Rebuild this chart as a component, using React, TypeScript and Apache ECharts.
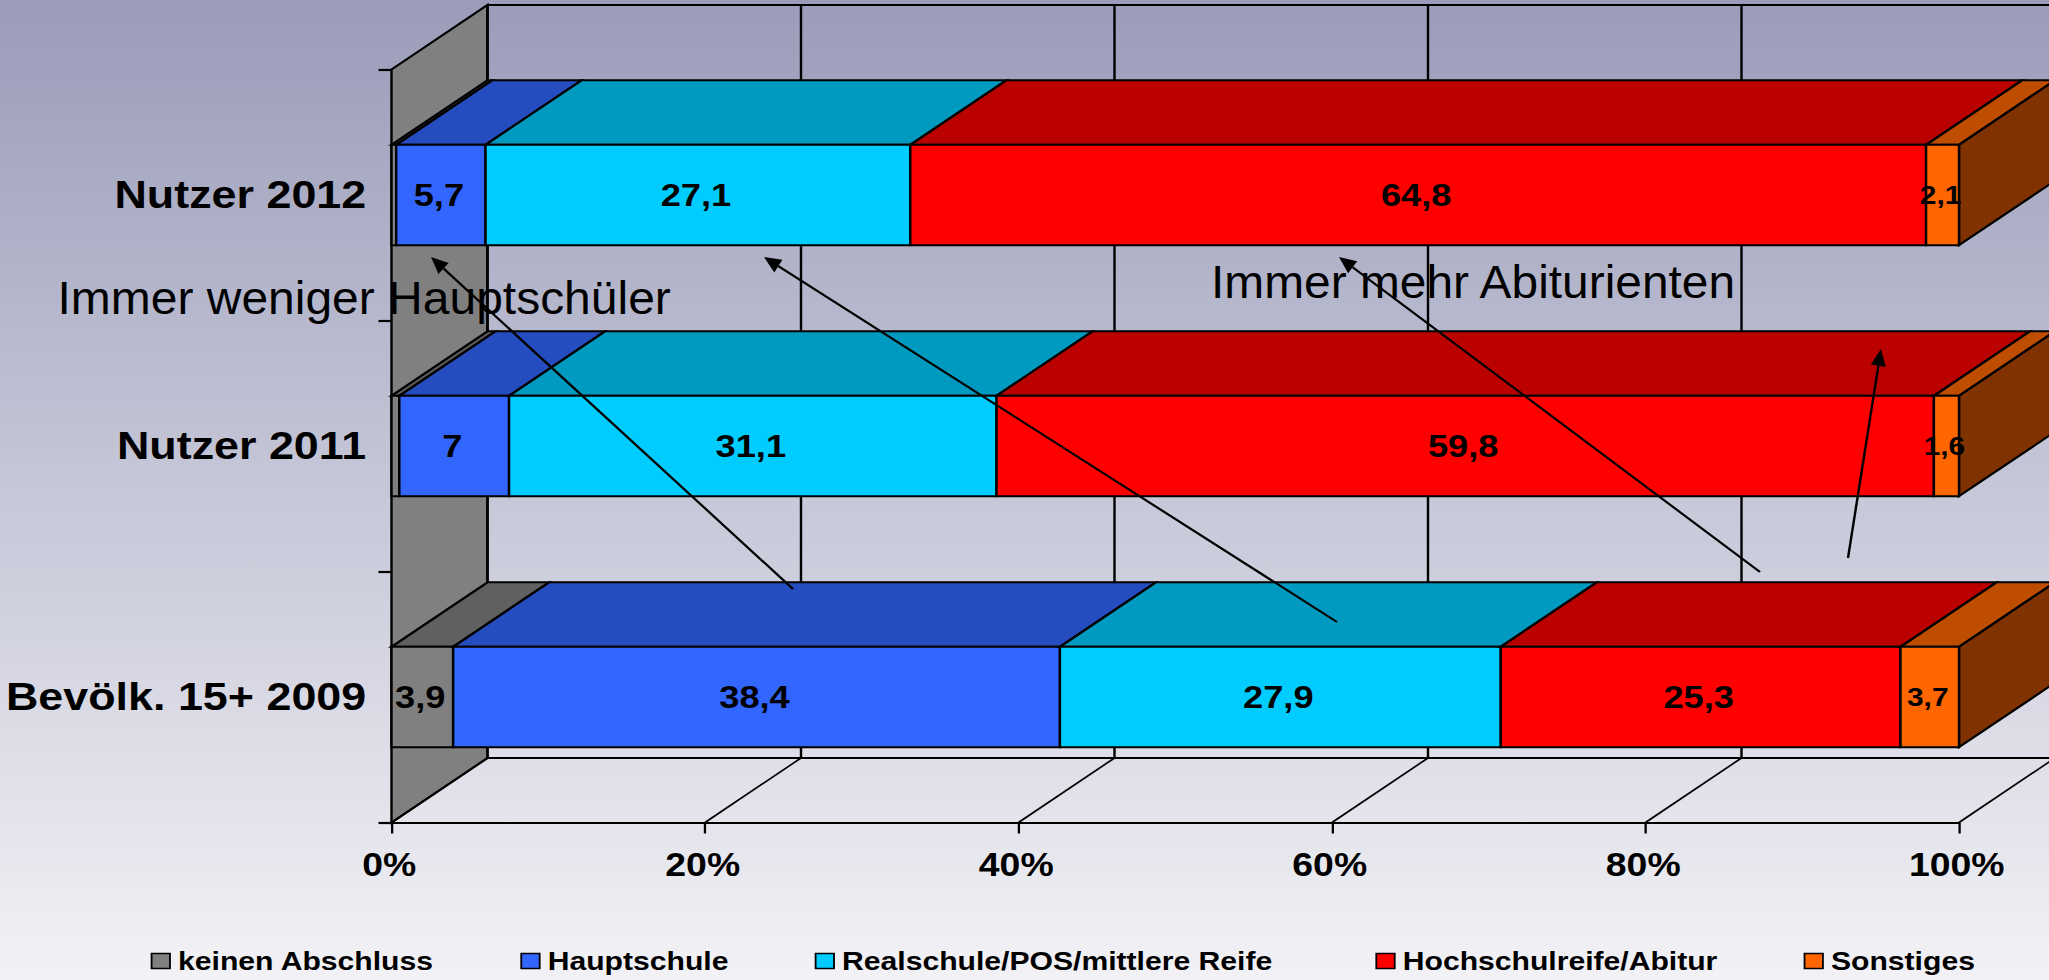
import React, { useEffect, useRef } from "react";
import * as echarts from "echarts";

const categories = ["Bevölk. 15+ 2009", "Nutzer 2011", "Nutzer 2012"];
const xTicks = [0, 20, 40, 60, 80, 100];
const keinenAbschluss = [3.9, 0.5, 0.3];
const hauptschule = [38.4, 7, 5.7];
const realschule = [27.9, 31.1, 27.1];
const abitur = [25.3, 59.8, 64.8];
const sonstiges = [3.7, 1.6, 2.1];
const seriesNames = ["keinen Abschluss", "Hauptschule", "Realschule/POS/mittlere Reife", "Hochschulreife/Abitur", "Sonstiges"];
const seriesValues = [keinenAbschluss, hauptschule, realschule, abitur, sonstiges];
const frontColors = ["#808080", "#3366FF", "#00CCFF", "#FF0000", "#FF6600"];
const topColors = ["#606060", "#264DBF", "#0099BF", "#BB0000", "#BF4D00"];
const sideColor = "#803300";
const smallLabels = ["3,7", "2,1", "1,6"];

// The reference is stretched sideways; the whole chart is drawn narrower and widened by CSS.
const K = 1.15;
const WIDTH = 2049;
const HEIGHT = 980;
const DX = 96 / K;
const DY = 64.5;
const LW = 2.1;
const FONT = '"Liberation Sans", Arial, sans-serif';

const totals = categories.map((_, c) => seriesValues.reduce((s, v) => s + v[c], 0));

function stackedRows(idx: number) {
  return categories.map((_, c) => {
    let before = 0;
    for (let s = 0; s < idx; s++) before += seriesValues[s][c];
    const start = (before / totals[c]) * 100;
    const end = ((before + seriesValues[idx][c]) / totals[c]) * 100;
    return [start, end, c, seriesValues[idx][c]];
  });
}

function barRenderer(idx: number) {
  return (_: any, api: any) => {
    const start = api.value(0);
    const end = api.value(1);
    const c = api.value(2);
    const raw = api.value(3);
    const [x0, yc] = api.coord([start, c]);
    const [x1] = api.coord([end, c]);
    const h = api.size([0, 1])[1] * 0.4;
    const t = yc - h / 2;
    const b = yc + h / 2;
    const line = { stroke: "#000", lineWidth: LW };
    const children: any[] = [
      { type: "polygon", shape: { points: [[x0, t], [x1, t], [x1 + DX, t - DY], [x0 + DX, t - DY]] }, style: { fill: topColors[idx], ...line } },
    ];
    if (end > 99.99) {
      children.push({ type: "polygon", shape: { points: [[x1, t], [x1 + DX, t - DY], [x1 + DX, b - DY], [x1, b]] }, style: { fill: sideColor, ...line } });
    }
    children.push({ type: "rect", shape: { x: x0, y: t, width: x1 - x0, height: h }, style: { fill: frontColors[idx], ...line } });
    if (raw >= 1) {
      const text = String(raw).replace(".", ",");
      children.push({
        type: "text",
        z2: 10,
        style: {
          text,
          x: (x0 + x1) / 2 - 2 / K,
          y: yc,
          align: "center",
          verticalAlign: "middle",
          fill: "#000",
          fontFamily: FONT,
          fontWeight: "bold",
          fontSize: smallLabels.includes(text) ? 26 : 31.5,
        },
      });
    }
    return { type: "group", children };
  };
}

function wallRenderer(_: any, api: any) {
  const band = api.size([0, 1])[1];
  const [xl, y0] = api.coord([0, 0]);
  const yb = y0 + band / 2;
  const yt = yb - band * categories.length;
  const line = { stroke: "#000", lineWidth: LW };
  const children: any[] = [
    { type: "polygon", shape: { points: [[xl, yt], [xl + DX, yt - DY], [xl + DX, yb - DY], [xl, yb]] }, style: { fill: "#808080", ...line } },
    { type: "line", shape: { x1: xl + DX, y1: yt - DY, x2: WIDTH / K + 20, y2: yt - DY }, style: line },
    { type: "line", shape: { x1: xl + DX, y1: yb - DY, x2: WIDTH / K + 20, y2: yb - DY }, style: line },
  ];
  xTicks.forEach((tick) => {
    const [x] = api.coord([tick, 0]);
    children.push({ type: "line", shape: { x1: x, y1: yb, x2: x + DX, y2: yb - DY }, style: { stroke: "#000", lineWidth: 1.6 } });
    children.push({ type: "line", shape: { x1: x + DX, y1: yt - DY, x2: x + DX, y2: yb - DY }, style: line });
  });
  return { type: "group", children };
}

const arrows = [
  [793, 589, 431, 257],
  [1337, 622, 764, 257],
  [1760, 572, 1339, 257],
  [1848, 558, 1881, 349],
];

function arrowGraphic([x1, y1, x2, y2]: number[]) {
  const len = Math.hypot(x2 - x1, y2 - y1);
  const ux = (x2 - x1) / len;
  const uy = (y2 - y1) / len;
  const bx = x2 - ux * 17;
  const by = y2 - uy * 17;
  return [
    { type: "line", z: 20, shape: { x1: x1 / K, y1, x2: bx / K, y2: by }, style: { stroke: "#000", lineWidth: 2.1 } },
    {
      type: "polygon",
      z: 20,
      shape: {
        points: [
          [x2 / K, y2],
          [(bx - uy * 7.5) / K, by + ux * 7.5],
          [(bx + uy * 7.5) / K, by - ux * 7.5],
        ],
      },
      style: { fill: "#000" },
    },
  ];
}

function noteGraphic(text: string, x: number, y: number, scaleX: number) {
  return {
    type: "text",
    z: 19,
    x: x / K,
    y,
    scaleX,
    style: { text, x: 0, y: 0, verticalAlign: "middle", fill: "#000", fontFamily: FONT, fontSize: 46 },
  };
}

const legendBase = {
  top: 948, padding: 0, itemWidth: 16, itemHeight: 15, itemGap: 75, icon: "rect",
  textStyle: { color: "#000", fontFamily: FONT, fontWeight: "bold", fontSize: 26.2, padding: [0, 0, 0, 2] },
};
const legendEntries = (names: string[]) =>
  names.map((name) => {
    const i = seriesNames.indexOf(name);
    return { name, itemStyle: { color: frontColors[i], borderColor: "#000", borderWidth: 1.6 } };
  });

export default function App() {
  const ref = useRef<HTMLDivElement>(null);
  useEffect(() => {
    if (!ref.current) return;
    const chart = echarts.init(ref.current, undefined, { renderer: "svg" });
    chart.setOption({
      animation: false,
      backgroundColor: {
        type: "linear", x: 0, y: 0, x2: 0, y2: 1,
        colorStops: [
          { offset: 0, color: "#9A9CB9" },
          { offset: 1, color: "#F2F2F6" },
        ],
      },
      grid: { left: 391.5 / K, top: 69.5, width: 1567.5 / K, height: 753, containLabel: false },
      xAxis: {
        type: "value", min: 0, max: 100, interval: 20,
        axisLine: { show: true, onZero: false, lineStyle: { color: "#000", width: 2.2 } },
        axisTick: { show: true, length: 11, lineStyle: { color: "#000", width: 2 } },
        splitLine: { show: false },
        axisLabel: { margin: 25, color: "#000", fontFamily: FONT, fontWeight: "bold", fontSize: 32.5, padding: [0, 4, 0, 0], formatter: "{value}%" },
      },
      yAxis: {
        type: "category", data: categories,
        axisLine: { show: true, lineStyle: { color: "#000", width: 2 } },
        axisTick: { show: true, length: 11.3, lineStyle: { color: "#000", width: 2.2 } },
        axisLabel: { margin: 22, color: "#000", fontFamily: FONT, fontWeight: "bold", fontSize: 39 },
      },
      legend: [
        { ...legendBase, left: 131, data: legendEntries(seriesNames.slice(0, 3)) },
        { ...legendBase, left: 1196, data: legendEntries(seriesNames.slice(3)) },
      ],
      graphic: [
        noteGraphic("Immer weniger Hauptschüler", 57.5, 298, 0.907),
        noteGraphic("Immer mehr Abiturienten", 1211, 282, 0.905),
        ...arrows.flatMap(arrowGraphic),
      ],
      series: [
        { type: "custom", name: "Wand", z: 1, silent: true, renderItem: wallRenderer, data: [[0, 0]], encode: { x: 0, y: 1 } },
        ...seriesNames.map((name, i) => ({
          type: "custom",
          name,
          z: 3,
          itemStyle: { color: frontColors[i] },
          renderItem: barRenderer(i),
          data: stackedRows(i),
          encode: { x: [0, 1], y: 2 },
        })),
      ],
    });
    return () => chart.dispose();
  }, []);
  return (
    <div style={{ position: "absolute", left: 0, top: 0, width: WIDTH, height: HEIGHT, overflow: "hidden" }}>
      <div ref={ref} style={{ width: WIDTH / K, height: HEIGHT, transform: `scaleX(${K})`, transformOrigin: "left top" }} />
    </div>
  );
}
